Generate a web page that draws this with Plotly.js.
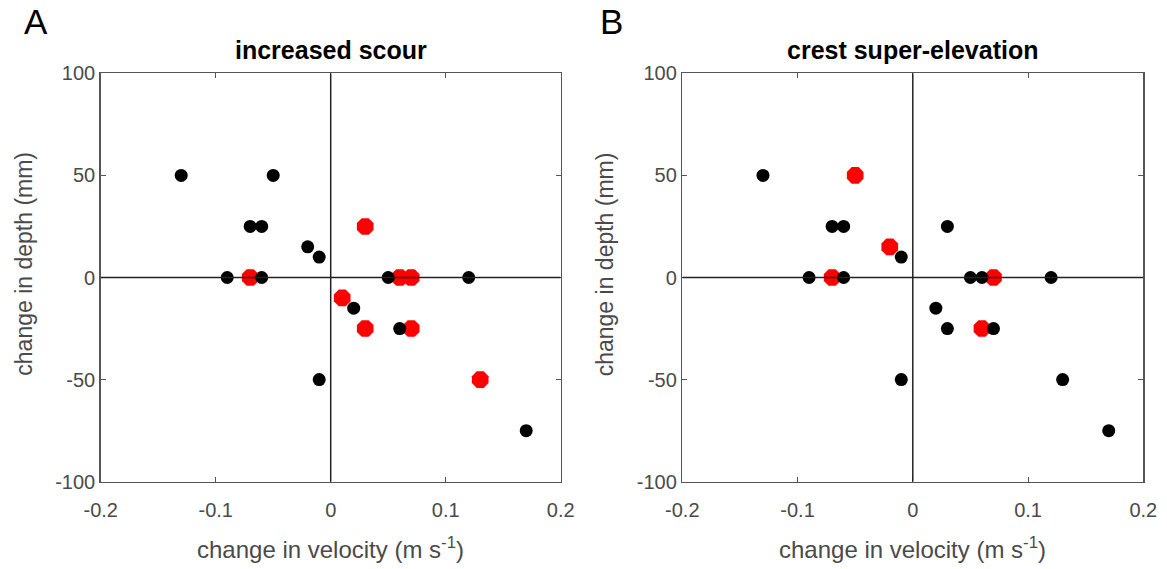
<!DOCTYPE html>
<html>
<head>
<meta charset="utf-8">
<script src="https://cdn.plot.ly/plotly-3.0.1.min.js"></script>
<style>html,body{margin:0;padding:0;background:#fff;}#chart{width:1167px;height:569px;}</style>
</head>
<body>
<div id="chart"></div>
<script>
// Panel A: increased scour
const aBlackX = [-0.13, -0.05, -0.07, -0.06, -0.02, -0.01, -0.09, -0.06, 0.05, 0.12, 0.02, 0.06, -0.01, 0.17];
const aBlackY = [50, 50, 25, 25, 15, 10, 0, 0, 0, 0, -15, -25, -50, -75];
const aRedX = [0.03, -0.07, 0.06, 0.07, 0.01, 0.03, 0.07, 0.13];
const aRedY = [25, 0, 0, 0, -10, -25, -25, -50];
// Panel B: crest super-elevation
const bBlackX = [-0.13, -0.07, -0.06, 0.03, -0.01, -0.09, -0.06, 0.05, 0.06, 0.12, 0.02, 0.03, 0.07, -0.01, 0.13, 0.17];
const bBlackY = [50, 25, 25, 25, 10, 0, 0, 0, 0, 0, -15, -25, -25, -50, -50, -75];
const bRedX = [-0.05, -0.02, -0.07, 0.07, 0.06];
const bRedY = [50, 15, 0, 0, -25];

const panelTitles = ["increased scour", "crest super-elevation"];
const panelLetters = ["A", "B"];
const xTicks = [-0.2, -0.1, 0, 0.1, 0.2];
const xTickText = ["-0.2", "-0.1", "0", "0.1", "0.2"];
const yTicks = [-100, -50, 0, 50, 100];
const yTickText = ["-100", "-50", "0", "50", "100"];
const xRange = [-0.2, 0.2];
const yRange = [-100, 100];
const xLabel = "change in velocity (m s<sup>-1</sup>)";
const yLabel = "change in depth (mm)";

const FONT = "Liberation Sans, Arial, Helvetica, sans-serif";
const redStyle = {color: "#ff0000", size: 18, symbol: "octagon", line: {width: 0}};
const blackStyle = {color: "#000000", size: 13, symbol: "circle", line: {width: 0}};

const traces = [
  {x: aRedX, y: aRedY, type: "scatter", mode: "markers", marker: redStyle, xaxis: "x", yaxis: "y", hoverinfo: "x+y"},
  {x: aBlackX, y: aBlackY, type: "scatter", mode: "markers", marker: blackStyle, xaxis: "x", yaxis: "y", hoverinfo: "x+y"},
  {x: bRedX, y: bRedY, type: "scatter", mode: "markers", marker: redStyle, xaxis: "x2", yaxis: "y2", hoverinfo: "x+y"},
  {x: bBlackX, y: bBlackY, type: "scatter", mode: "markers", marker: blackStyle, xaxis: "x2", yaxis: "y2", hoverinfo: "x+y"}
];

function xAxis(domain, anchor) {
  return {
    domain: domain, anchor: anchor, range: xRange,
    tickvals: xTicks, ticktext: xTickText,
    ticks: "inside", ticklen: 5, tickwidth: 1, tickcolor: "#555",
    ticklabelstandoff: 10,
    showline: true, mirror: "ticks", linecolor: "#555", linewidth: 1.5,
    showgrid: false, zeroline: false,
    tickfont: {family: FONT, size: 20, color: "#4a4a4a"},
    fixedrange: true
  };
}
function yAxis(domain, anchor) {
  return {
    domain: domain, anchor: anchor, range: yRange,
    tickvals: yTicks, ticktext: yTickText,
    ticks: "inside", ticklen: 5, tickwidth: 1, tickcolor: "#555",
    showline: true, mirror: "ticks", linecolor: "#555", linewidth: 1.5,
    showgrid: false, zeroline: false,
    tickfont: {family: FONT, size: 20, color: "#4a4a4a"},
    fixedrange: true
  };
}

const yDom = [1 - 481.7 / 569, 1 - 73.3 / 569];
const xDomA = [100.7 / 1167, 560.7 / 1167];
const xDomB = [682.3 / 1167, 1143.3 / 1167];

const shapes = [];
[["x", "y"], ["x2", "y2"]].forEach(function (ax) {
  shapes.push({type: "line", xref: ax[0], yref: ax[1], x0: 0, x1: 0, y0: yRange[0], y1: yRange[1], layer: "above", line: {color: "#222", width: 1.5}});
  shapes.push({type: "line", xref: ax[0], yref: ax[1], x0: xRange[0], x1: xRange[1], y0: 0, y1: 0, layer: "above", line: {color: "#222", width: 1.5}});
});

const annotations = [];
[xDomA, xDomB].forEach(function (d, i) {
  const cx = (d[0] + d[1]) / 2;
  annotations.push({text: "<b>" + panelTitles[i] + "</b>", xref: "paper", yref: "paper", x: cx, y: 1 - 50 / 569, xanchor: "center", yanchor: "middle", showarrow: false, font: {family: FONT, size: 25, color: "#000"}});
  annotations.push({text: xLabel, xref: "paper", yref: "paper", x: cx, y: 1 - 548 / 569, xanchor: "center", yanchor: "middle", showarrow: false, font: {family: FONT, size: 24, color: "#4a4a4a"}});
  annotations.push({text: yLabel, xref: "paper", yref: "paper", x: (d[0] * 1167 - 77) / 1167, y: 1 - 264 / 569, xanchor: "center", yanchor: "middle", textangle: -90, showarrow: false, font: {family: FONT, size: 23, color: "#4a4a4a"}});
});
annotations.push({text: panelLetters[0], xref: "paper", yref: "paper", x: 36 / 1167, y: 1 - 22 / 569, xanchor: "center", yanchor: "middle", showarrow: false, font: {family: FONT, size: 35, color: "#000"}});
annotations.push({text: panelLetters[1], xref: "paper", yref: "paper", x: 611 / 1167, y: 1 - 22 / 569, xanchor: "center", yanchor: "middle", showarrow: false, font: {family: FONT, size: 35, color: "#000"}});

const layout = {
  width: 1167, height: 569,
  margin: {l: 0, r: 0, t: 0, b: 0},
  paper_bgcolor: "#fff", plot_bgcolor: "#fff",
  showlegend: false,
  xaxis: xAxis(xDomA, "y"),
  yaxis: yAxis(yDom, "x"),
  xaxis2: xAxis(xDomB, "y2"),
  yaxis2: yAxis(yDom, "x2"),
  shapes: shapes,
  annotations: annotations
};

Plotly.newPlot("chart", traces, layout, {staticPlot: true, displayModeBar: false});
</script>
</body>
</html>
